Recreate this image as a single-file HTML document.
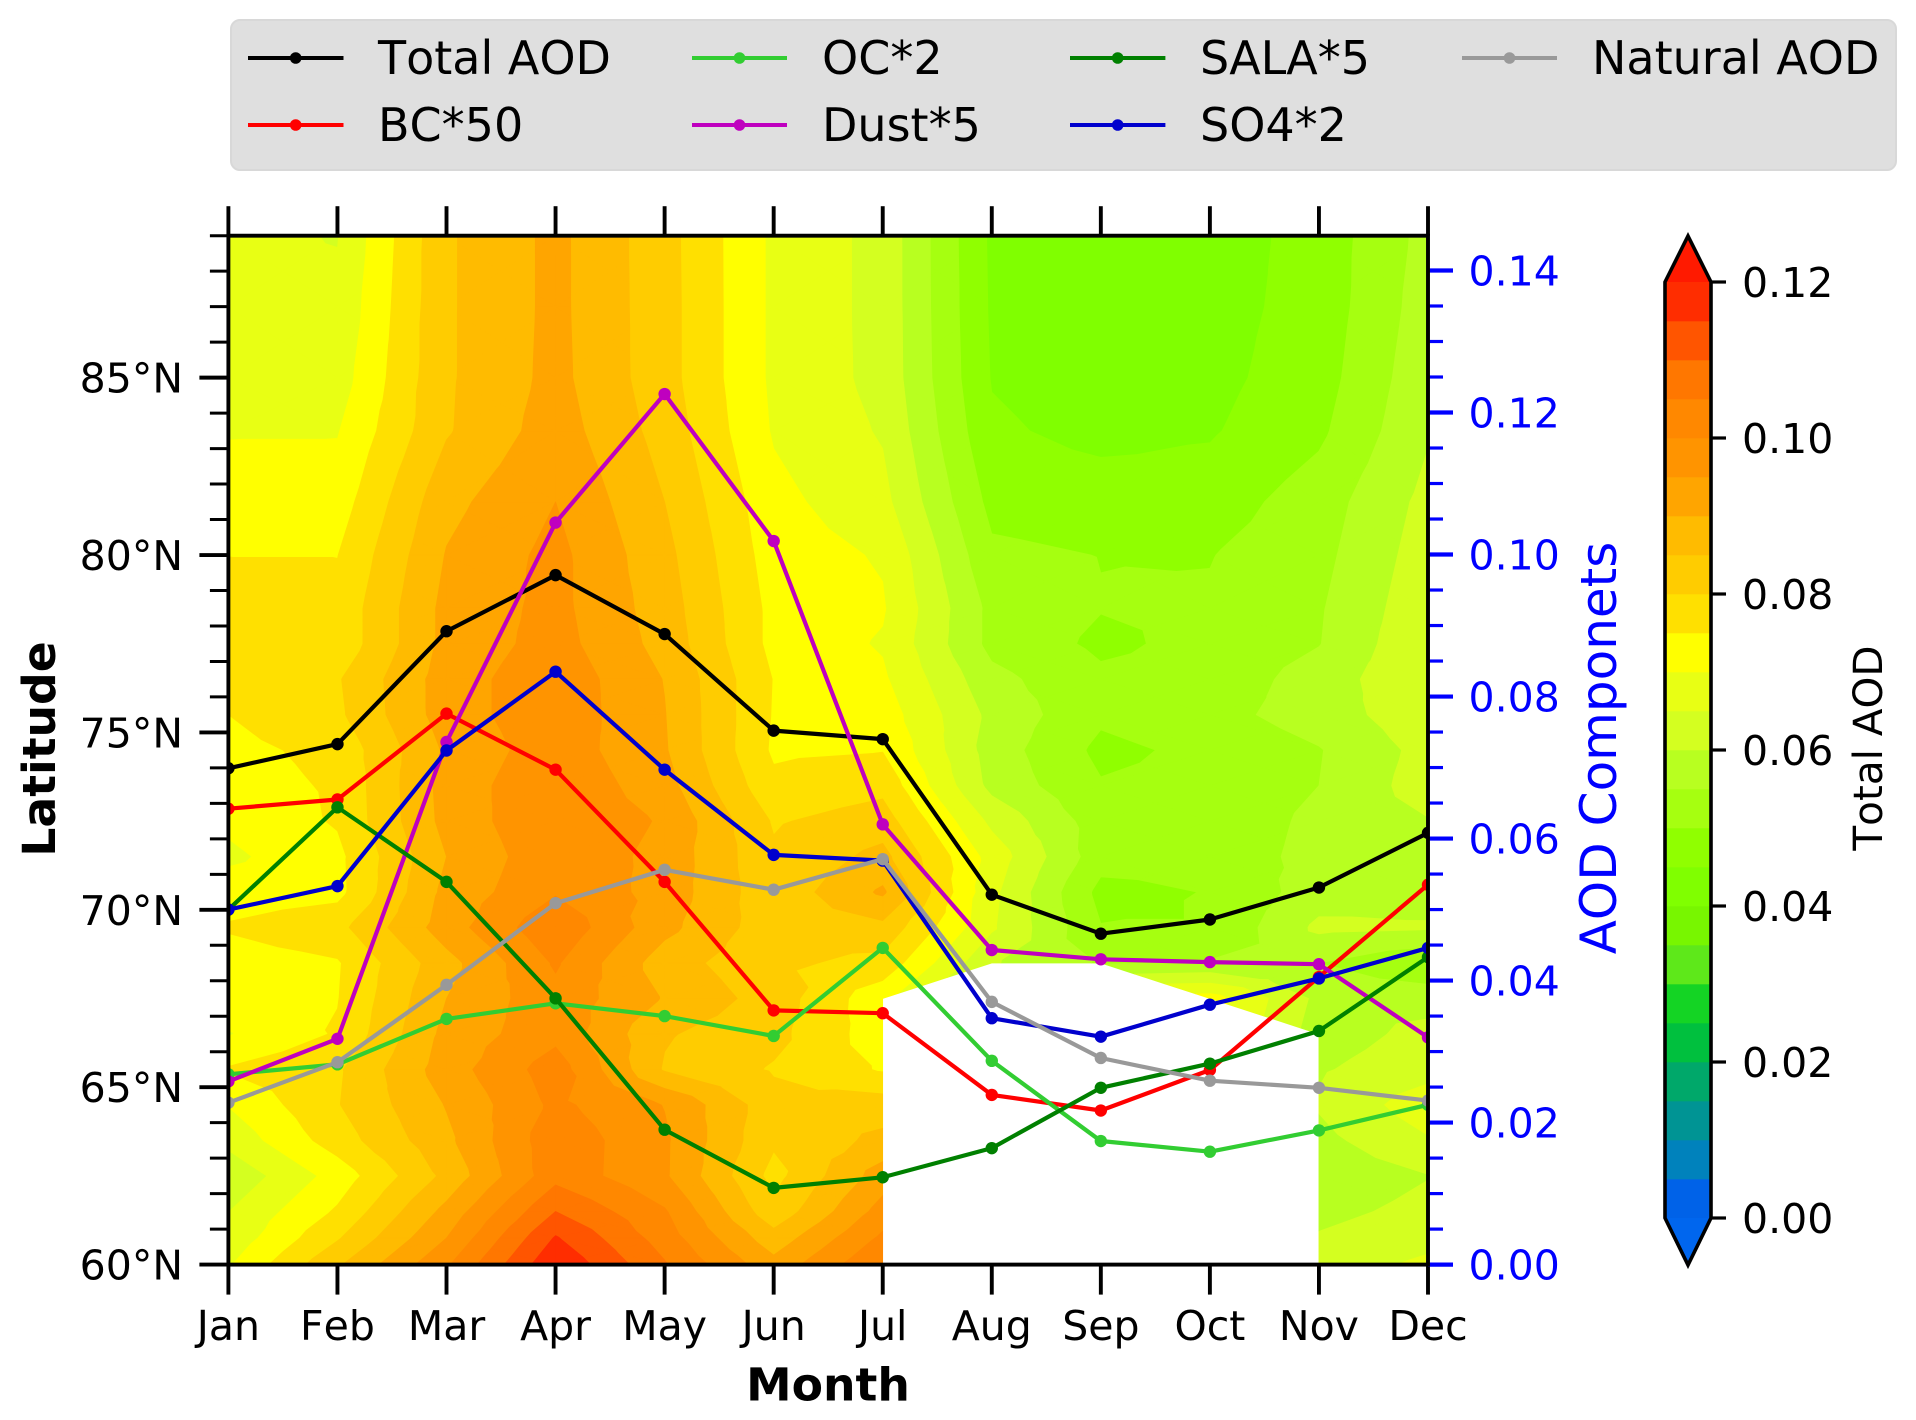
<!DOCTYPE html>
<html lang="en">
<head>
<meta charset="utf-8">
<title>Total AOD by month and latitude</title>
<style>
html,body{margin:0;padding:0;background:#fff;}
svg{display:block;font-family:"DejaVu Sans","Liberation Sans",sans-serif;font-kerning:none;}
</style>
</head>
<body>
<svg id="chart" xmlns="http://www.w3.org/2000/svg" width="1916" height="1420" viewBox="0 0 1916 1420">
  <defs><clipPath id="plot-clip"><rect x="228.4" y="235.7" width="1199.6" height="1028.9"/></clipPath></defs>
  <g id="contours" clip-path="url(#plot-clip)"></g>
  <g id="lines" clip-path="url(#plot-clip)"></g>
  <g id="axes"></g>
  <g id="colorbar"></g>

  <g>
    <rect x="231" y="20" width="1665" height="150" rx="9" fill="#dfdfdf" stroke="#d8d8d8" stroke-width="2"/>
    <g>
      <line x1="248" y1="58" x2="343.5" y2="58" stroke="#000000" stroke-width="3.9"/><circle cx="295.7" cy="58" r="5.8" fill="#000000"/>
      <text x="378" y="74" font-size="46">Total AOD</text>
    </g>
    <g>
      <line x1="248" y1="125" x2="343.5" y2="125" stroke="#ff0000" stroke-width="3.9"/><circle cx="295.7" cy="125" r="5.8" fill="#ff0000"/>
      <text x="378" y="141" font-size="46">BC*50</text>
    </g>
    <g>
      <line x1="692" y1="58" x2="787" y2="58" stroke="#32cd32" stroke-width="3.9"/><circle cx="739.5" cy="58" r="5.8" fill="#32cd32"/>
      <text x="822" y="74" font-size="46">OC*2</text>
    </g>
    <g>
      <line x1="692" y1="125" x2="787" y2="125" stroke="#bf00bf" stroke-width="3.9"/><circle cx="739.5" cy="125" r="5.8" fill="#bf00bf"/>
      <text x="822" y="141" font-size="46">Dust*5</text>
    </g>
    <g>
      <line x1="1070" y1="58" x2="1165.4" y2="58" stroke="#008000" stroke-width="3.9"/><circle cx="1117.7" cy="58" r="5.8" fill="#008000"/>
      <text x="1200" y="74" font-size="46">SALA*5</text>
    </g>
    <g>
      <line x1="1070" y1="125" x2="1165.4" y2="125" stroke="#0000cd" stroke-width="3.9"/><circle cx="1117.7" cy="125" r="5.8" fill="#0000cd"/>
      <text x="1200" y="141" font-size="46">SO4*2</text>
    </g>
    <g>
      <line x1="1462" y1="58" x2="1557" y2="58" stroke="#999999" stroke-width="3.9"/><circle cx="1509.5" cy="58" r="5.8" fill="#999999"/>
      <text x="1592" y="74" font-size="46">Natural AOD</text>
    </g>
  </g>

  <text x="828" y="1400.5" font-size="45.7" font-weight="bold" text-anchor="middle">Month</text>
  <text transform="translate(55,749) rotate(-90)" font-size="45.7" font-weight="bold" text-anchor="middle">Latitude</text>
  <text transform="translate(1616,748) rotate(-90)" font-size="50" fill="#0000ff" text-anchor="middle">AOD Componets</text>
  <text transform="translate(1882,748) rotate(-90)" font-size="40.5" text-anchor="middle">Total AOD</text>
</svg>

<script>
// ---- categories and axis tick labels ----
const months = ['Jan','Feb','Mar','Apr','May','Jun','Jul','Aug','Sep','Oct','Nov','Dec'];
const latTicks = [60,65,70,75,80,85];
const latTickLabels = ['60°N','65°N','70°N','75°N','80°N','85°N'];
const latMinorTicks = [61,62,63,64,66,67,68,69,71,72,73,74,76,77,78,79,81,82,83,84,86,87,88,89];
const compTicks = [0,0.02,0.04,0.06,0.08,0.10,0.12,0.14];
const compTickLabels = ['0.00','0.02','0.04','0.06','0.08','0.10','0.12','0.14'];
const compMinorTicks = [0.005,0.01,0.015,0.025,0.03,0.035,0.045,0.05,0.055,0.065,0.07,0.075,0.085,0.09,0.095,0.105,0.11,0.115,0.125,0.13,0.135];
const cbarTicks = [0,0.02,0.04,0.06,0.08,0.10,0.12];
const cbarTickLabels = ['0.00','0.02','0.04','0.06','0.08','0.10','0.12'];

// ---- line series, right-hand axis values ----
const totalAod  = [0.0699,0.0733,0.0892,0.0971,0.0888,0.0752,0.0740,0.0521,0.0466,0.0486,0.0531,0.0608];
const bc50      = [0.0642,0.0655,0.0776,0.0697,0.0539,0.0358,0.0354,0.0239,0.0217,0.0274,0.0405,0.0535];
const oc2       = [0.0268,0.0282,0.0346,0.0368,0.0350,0.0322,0.0446,0.0287,0.0174,0.0159,0.0189,0.0225];
const dust5     = [0.0258,0.0318,0.0736,0.1045,0.1226,0.1019,0.0620,0.0443,0.0430,0.0426,0.0423,0.0320];
const sala5     = [0.0500,0.0644,0.0539,0.0375,0.0190,0.0108,0.0123,0.0164,0.0249,0.0283,0.0329,0.0433];
const so42      = [0.0500,0.0533,0.0724,0.0835,0.0697,0.0577,0.0569,0.0347,0.0321,0.0366,0.0403,0.0446];
const naturalAod= [0.0228,0.0285,0.0394,0.0509,0.0556,0.0528,0.0571,0.0370,0.0291,0.0259,0.0249,0.0231];

// ---- contour field: latitude rows and Total AOD per month (null = no data) ----
const latitudes = [60,60.75,61.5,62.5,63.5,64.5,65.5,66.5,67.5,68.5,69.5,70.5,71.5,72.5,73.5,74.5,75.5,76.5,77.5,78.5,80,81.5,83.5,85,87,89];
const aodJan = [.0695,.0665,.0649,.0612,.0665,.0702,.0755,.0697,.073,.0725,.0755,.0725,.069,.071,.0725,.0735,.075,.0775,.0775,.078,.0749,.072,.0697,.067,.066,.066];
const aodFeb = [.0843,.0795,.0757,.072,.0775,.0797,.0793,.0755,.0748,.0745,.0785,.0735,.0737,.0755,.0757,.0765,.079,.0795,.0765,.0765,.0749,.0725,.0697,.0675,.066,.0648];
const aodMar = [.0993,.095,.0915,.0863,.0888,.0903,.0926,.0915,.09,.0882,.0926,.0915,.09,.0917,.092,.0908,.0925,.0925,.0915,.0915,.0903,.0885,.0845,.0843,.0843,.0843];
const aodApr = [.1195,.1155,.11,.1033,.1034,.1012,.1026,.0985,.0985,.1006,.104,.0995,.0988,.0995,.0992,.098,.0985,.0985,.097,.0965,.0965,.095,.0925,.0915,.0913,.0913];
const aodMay = [.1055,.1026,.1005,.0957,.0958,.0948,.0845,.0855,.0896,.0873,.0915,.093,.0934,.0944,.092,.0905,.0902,.0898,.0882,.0875,.0865,.085,.083,.082,.082,.0819];
const aodJun = [.0917,.087,.0815,.0783,.0808,.0819,.0795,.0815,.0827,.0811,.082,.0815,.0808,.0795,.0762,.0742,.0746,.0748,.0735,.0735,.0725,.0715,.0695,.069,.069,.069];
const aodJul = [.105,.101,.097,.0925,.0863,.0825,.0745,.0721,.0715,.0784,.0836,.0908,.0865,.0825,.0785,.0748,.0726,.0708,.0695,.0705,.0695,.0665,.0645,.0635,.0634,.0634];
const aodAug = [null,null,null,null,null,null,null,null,null,.0605,.0657,.0663,.068,.0638,.0585,.0576,.0586,.0565,.0535,.0535,.051,.0485,.0458,.0447,.0443,.0441];
const aodSep = [null,null,null,null,null,null,null,null,null,.0545,.0502,.0485,.052,.0523,.0504,.0488,.0509,.051,.049,.0502,.0499,.0475,.0435,.0425,.042,.042];
const aodOct = [null,null,null,null,null,null,null,null,.0723,.0555,.0502,.0502,.052,.0515,.0515,.0512,.0533,.0518,.0514,.0506,.0498,.0475,.0445,.0435,.043,.0425];
const aodNov = [.0625,.0605,.0585,.0565,.0585,.0605,.0595,.0575,.0587,.055,.0611,.0575,.0566,.0562,.055,.0547,.0573,.0572,.0548,.0545,.0535,.0525,.049,.0478,.047,.0469];
const aodDec = [.066,.0635,.0615,.0598,.0645,.068,.063,.0615,.058,.0505,.0605,.058,.059,.0597,.0625,.0617,.0634,.0646,.0645,.0635,.0625,.0615,.0595,.0585,.0575,.0567];
const aodByMonth = [aodJan,aodFeb,aodMar,aodApr,aodMay,aodJun,aodJul,aodAug,aodSep,aodOct,aodNov,aodDec];

// ---- contour levels and colormap (low to high) ----
const levels = [0,.005,.01,.015,.02,.025,.03,.035,.04,.045,.05,.055,.06,.065,.07,.075,.08,.085,.09,.095,.1,.105,.11,.115,.12];
const bandColors = ['#0062e8','#0082bc','#009494','#00a86a','#00c03e','#14d424','#5ee81a','#78f600','#80ff00','#90ff00','#a6ff10','#b8ff20','#d4ff20','#e8ff14','#ffff00','#ffe000','#ffcc00','#ffbb00','#ffa500','#ff9400','#ff8800','#ff7700','#ff5500','#ff2d00'];
const underColor = '#0066ee';
const overColor = '#ff1a00';

// ---- axis functions ----
const PLOT_L = 228.4, PLOT_R = 1428, PLOT_T = 235.7, PLOT_B = 1264.6;
const LAT_MIN = 60, LAT_MAX = 89, COMP_MAX = 0.1449;
const CB_L = 1665, CB_R = 1711, CB_T = 282, CB_B = 1218, CB_TIP_T = 236, CB_TIP_B = 1265;
function xMonth(i){ return PLOT_L + (PLOT_R - PLOT_L) * i / (months.length - 1); }
function yLat(v){ return PLOT_B - (PLOT_B - PLOT_T) * (v - LAT_MIN) / (LAT_MAX - LAT_MIN); }
function yComp(v){ return PLOT_B - (PLOT_B - PLOT_T) * v / COMP_MAX; }
function yCbar(v){ return CB_B - (CB_B - CB_T) * v / 0.12; }

const NS = 'http://www.w3.org/2000/svg';
function make(parent, tag, attrs){
  const el = document.createElementNS(NS, tag);
  for (const k in attrs) el.setAttribute(k, attrs[k]);
  parent.appendChild(el);
  return el;
}

// ---- filled contours ----
function clipPoly(poly, level, above){
  const out = [];
  for (let i = 0; i < poly.length; i++){
    const a = poly[i], b = poly[(i + 1) % poly.length];
    const ina = above ? a[2] >= level : a[2] <= level;
    const inb = above ? b[2] >= level : b[2] <= level;
    if (ina) out.push(a);
    if (ina !== inb){
      const t = (level - a[2]) / (b[2] - a[2]);
      out.push([a[0] + t * (b[0] - a[0]), a[1] + t * (b[1] - a[1]), level]);
    }
  }
  return out;
}
function triangles(){
  const tris = [];
  for (let m = 0; m < months.length - 1; m++){
    for (let r = 0; r < latitudes.length - 1; r++){
      const c = [[m,r],[m+1,r],[m+1,r+1],[m,r+1]].map(function(p){
        const z = aodByMonth[p[0]][p[1]];
        return z === null ? null : [xMonth(p[0]), yLat(latitudes[p[1]]), z];
      });
      const valid = c.filter(function(p){ return p !== null; });
      if (valid.length === 4){
        const mid = [(c[0][0]+c[1][0])/2, (c[0][1]+c[3][1])/2, (c[0][2]+c[1][2]+c[2][2]+c[3][2])/4];
        for (let k = 0; k < 4; k++) tris.push([c[k], c[(k+1)%4], mid]);
      } else if (valid.length === 3){
        tris.push(valid);
      }
    }
  }
  return tris;
}
function drawContours(){
  const g = document.getElementById('contours');
  const tris = triangles();
  const edges = [-1].concat(levels, [1]);
  const cols = [underColor].concat(bandColors, [overColor]);
  for (let b = 0; b < cols.length; b++){
    let d = '';
    for (const tri of tris){
      let poly = clipPoly(tri, edges[b], true);
      if (poly.length) poly = clipPoly(poly, edges[b + 1], false);
      if (poly.length < 3) continue;
      d += 'M' + poly.map(function(p){ return p[0].toFixed(1) + ' ' + p[1].toFixed(1); }).join('L') + 'Z';
    }
    if (!d) continue;
    const path = make(g, 'path', {d: d, fill: cols[b], stroke: cols[b], 'stroke-width': 0.7, 'stroke-linejoin': 'round'});
    
    
  }
}

// ---- line series ----
function drawSeries(values, color, name){
  const g = document.getElementById('lines');
  const pts = values.map(function(v, i){ return xMonth(i).toFixed(1) + ',' + yComp(v).toFixed(1); }).join(' ');
  const line = make(g, 'polyline', {points: pts, fill: 'none', stroke: color, 'stroke-width': 4.2, 'stroke-linejoin': 'round'});
  
  
  values.forEach(function(v, i){
    const dot = make(g, 'circle', {cx: xMonth(i), cy: yComp(v), r: 6.2, fill: color});
    
    
  });
}

// ---- axes ----
function drawTick(g, x1, y1, x2, y2, color, w, name){
  const t = make(g, 'line', {x1: x1, y1: y1, x2: x2, y2: y2, stroke: color, 'stroke-width': w});
  
  
}
function drawLabel(g, x, y, str, anchor, color, name){
  const t = make(g, 'text', {x: x, y: y, 'font-size': 41, 'text-anchor': anchor, fill: color});
  t.textContent = str;
  
  
}
function drawAxes(){
  const g = document.getElementById('axes');
  months.forEach(function(m, i){
    const x = xMonth(i);
    drawTick(g, x, PLOT_B, x, PLOT_B + 30, '#000', 3.9, 'x-tick');
    drawTick(g, x, PLOT_T, x, PLOT_T - 29.5, '#000', 3.9, 'x-tick-top');
    drawLabel(g, x, 1340, m, 'middle', '#000', 'x-tick-label');
  });
  latTicks.forEach(function(v, i){
    drawTick(g, PLOT_L, yLat(v), PLOT_L - 29, yLat(v), '#000', 3.9, 'y-tick');
    drawLabel(g, 183, yLat(v) + 15, latTickLabels[i], 'end', '#000', 'y-tick-label');
  });
  latMinorTicks.forEach(function(v){
    drawTick(g, PLOT_L, yLat(v), PLOT_L - 18.5, yLat(v), '#000', 3, 'y-minor-tick');
  });
  compTicks.forEach(function(v, i){
    drawTick(g, PLOT_R, yComp(v), PLOT_R + 25, yComp(v), '#0000ff', 4.2, 'right-y-tick');
    drawLabel(g, 1468.5, yComp(v) + 15, compTickLabels[i], 'start', '#0000ff', 'right-y-tick-label');
  });
  compMinorTicks.forEach(function(v){
    drawTick(g, PLOT_R, yComp(v), PLOT_R + 15, yComp(v), '#0000ff', 3.2, 'right-y-minor-tick');
  });
  const frame = make(g, 'rect', {x: PLOT_L, y: PLOT_T, width: PLOT_R - PLOT_L, height: PLOT_B - PLOT_T, fill: 'none', stroke: '#000', 'stroke-width': 3.9});
  
  
}

// ---- colorbar ----
function drawColorbar(){
  const g = document.getElementById('colorbar');
  const mid = (CB_L + CB_R) / 2;
  bandColors.forEach(function(c, i){
    const top = yCbar(levels[i + 1]), bot = yCbar(levels[i]);
    const seg = make(g, 'rect', {x: CB_L, y: top, width: CB_R - CB_L, height: bot - top + 0.3, fill: c});
    
    
  });
  const over = make(g, 'polygon', {points: CB_L + ',' + CB_T + ' ' + mid + ',' + CB_TIP_T + ' ' + CB_R + ',' + CB_T, fill: overColor});
  
  
  const under = make(g, 'polygon', {points: CB_L + ',' + CB_B + ' ' + mid + ',' + CB_TIP_B + ' ' + CB_R + ',' + CB_B, fill: underColor});
  
  
  const outline = make(g, 'polygon', {points: [CB_L,CB_T, mid,CB_TIP_T, CB_R,CB_T, CB_R,CB_B, mid,CB_TIP_B, CB_L,CB_B].join(' '), fill: 'none', stroke: '#000', 'stroke-width': 3.6, 'stroke-linejoin': 'miter'});
  
  
  cbarTicks.forEach(function(v, i){
    drawTick(g, CB_R, yCbar(v), CB_R + 15, yCbar(v), '#000', 3.2, 'colorbar-tick');
    drawLabel(g, 1742, yCbar(v) + 15, cbarTickLabels[i], 'start', '#000', 'colorbar-tick-label');
  });
}

drawContours();
drawSeries(totalAod, '#000000', 'total-aod');
drawSeries(bc50, '#ff0000', 'bc');
drawSeries(oc2, '#32cd32', 'oc');
drawSeries(dust5, '#bf00bf', 'dust');
drawSeries(sala5, '#008000', 'sala');
drawSeries(so42, '#0000cd', 'so4');
drawSeries(naturalAod, '#999999', 'natural-aod');
drawAxes();
drawColorbar();
</script>
</body>
</html>
